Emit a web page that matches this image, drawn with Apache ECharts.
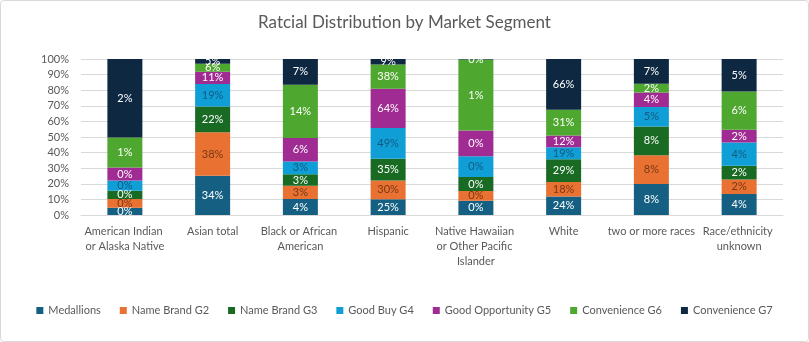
<!DOCTYPE html>
<html>
<head>
<meta charset="utf-8">
<script src="https://cdn.jsdelivr.net/npm/echarts@6/dist/echarts.min.js"></script>
<style>
html,body{margin:0;padding:0;background:#fff;}
#chart{width:809px;height:342px;}
</style>
</head>
<body>
<div id="chart"></div>
<script>
const categories = ["American Indian or Alaska Native", "Asian total", "Black or African American", "Hispanic", "Native Hawaiian or Other Pacific Islander", "White", "two or more races", "Race/ethnicity unknown"];
const seriesNames = ["Medallions", "Name Brand G2", "Name Brand G3", "Good Buy G4", "Good Opportunity G5", "Convenience G6", "Convenience G7"];
const yTicks = [0, 10, 20, 30, 40, 50, 60, 70, 80, 90, 100];

// segment heights (share of each bar, %)
const medallions = [4.7, 25.1, 10.3, 10.1, 9.2, 11.8, 19.9, 13.5];
const nameBrandG2 = [5.6, 28.0, 8.5, 12.0, 6.2, 9.4, 18.4, 9.2];
const nameBrandG3 = [5.3, 16.5, 7.3, 13.9, 9.0, 14.6, 18.4, 8.8];
const goodBuyG4 = [6.5, 14.3, 8.2, 19.7, 13.3, 7.7, 12.5, 15.0];
const goodOppG5 = [8.3, 8.0, 15.0, 25.2, 16.5, 7.5, 9.4, 8.1];
const convG6 = [19.3, 5.1, 34.2, 15.5, 45.5, 16.5, 5.6, 24.6];
const convG7 = [50.3, 3.0, 16.5, 3.6, 0.3, 32.5, 15.8, 20.8];

// data labels shown on segments
const lblMedallions = ["0%", "34%", "4%", "25%", "0%", "24%", "8%", "4%"];
const lblG2 = ["0%", "38%", "3%", "30%", "0%", "18%", "8%", "2%"];
const lblG3 = ["0%", "22%", "3%", "35%", "0%", "29%", "8%", "2%"];
const lblG4 = ["0%", "19%", "3%", "49%", "0%", "19%", "5%", "4%"];
const lblG5 = ["0%", "11%", "6%", "64%", "0%", "12%", "4%", "2%"];
const lblG6 = ["1%", "6%", "14%", "38%", "1%", "31%", "2%", "6%"];
const lblG7 = ["2%", "5%", "7%", "9%", "0%", "66%", "7%", "5%"];

const values = [medallions, nameBrandG2, nameBrandG3, goodBuyG4, goodOppG5, convG6, convG7];
const labels = [lblMedallions, lblG2, lblG3, lblG4, lblG5, lblG6, lblG7];
const colors = ["#156082", "#E97132", "#196B24", "#0F9ED5", "#A02B93", "#4EA72E", "#0E2841"];
const labelColors = ["#ffffff", "#7a3815", "#ffffff", "#145a80", "#ffffff", "#ffffff", "#ffffff"];

const FONT = "Lato";
const chart = echarts.init(document.getElementById('chart'));
chart.setOption({
  animation: false,
  textStyle: {fontFamily: FONT},
  title: {
    text: "Ratcial Distribution by Market Segment",
    left: 'center', top: 9,
    textStyle: {fontFamily: FONT, fontSize: 17, fontWeight: 'normal', color: '#595959'}
  },
  graphic: [{
    type: 'rect', silent: true, z: -1,
    shape: {x: 0.5, y: 0.5, width: 808, height: 341, r: 3},
    style: {fill: 'none', stroke: '#d9d9d9', lineWidth: 1}
  }],
  grid: {left: 81, right: 26, top: 59, bottom: 127},
  legend: {
    bottom: 21, left: 'center',
    itemWidth: 7, itemHeight: 7, itemGap: 19,
    icon: 'rect',
    textStyle: {fontFamily: FONT, fontSize: 11, color: '#595959'},
    data: seriesNames
  },
  xAxis: {
    type: 'category', data: categories,
    axisLine: {lineStyle: {color: '#d9d9d9'}},
    axisTick: {show: false},
    axisLabel: {
      interval: 0, color: '#595959', fontSize: 11, fontFamily: FONT,
      margin: 9, lineHeight: 15, width: 88, overflow: 'break'
    }
  },
  yAxis: {
    type: 'value', min: yTicks[0], max: yTicks[yTicks.length - 1], interval: 10,
    axisLabel: {formatter: '{value}%', color: '#595959', fontSize: 11, fontFamily: FONT, margin: 12},
    splitLine: {lineStyle: {color: '#d9d9d9'}},
    axisLine: {show: false}, axisTick: {show: false}
  },
  series: seriesNames.map((name, i) => ({
    name, type: 'bar', stack: 'total', barWidth: 35,
    itemStyle: {color: colors[i]},
    data: values[i],
    label: {
      show: true, position: 'inside',
      fontSize: 11, fontFamily: FONT, color: labelColors[i],
      formatter: p => labels[i][p.dataIndex]
    }
  }))
});
</script>
</body>
</html>
